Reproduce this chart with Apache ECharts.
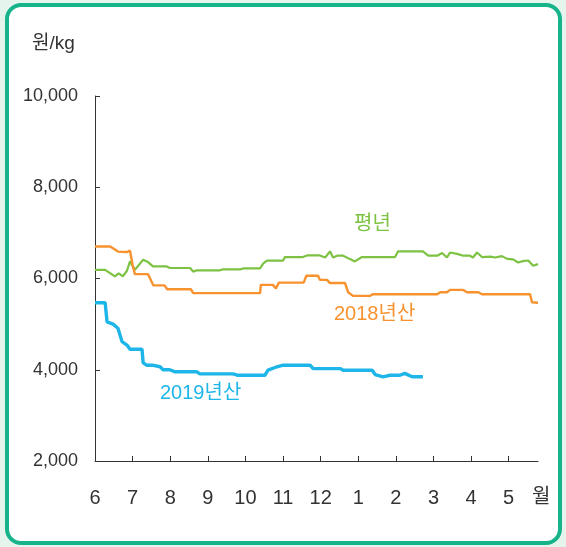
<!DOCTYPE html>
<html>
<head>
<meta charset="utf-8">
<script src="https://cdn.jsdelivr.net/npm/echarts@6/dist/echarts.min.js"></script>
<style>
html,body{margin:0;padding:0;background:#e6f4ee;}
#c{width:566px;height:547px;}
</style>
</head>
<body>
<div id="c"></div>
<script>
// x = months elapsed since June 1, y = 원/kg
var monthLabels = ['6','7','8','9','10','11','12','1','2','3','4','5'];
var yTicks = [2000, 4000, 6000, 8000, 10000];

var avgX = [0,0.27,0.53,0.63,0.74,0.85,0.93,1.06,1.28,1.41,1.54,1.91,1.99,2.53,2.61,2.71,3.32,3.40,3.86,3.94,4.39,4.47,4.57,5.00,5.05,5.53,5.64,5.98,6.12,6.25,6.33,6.44,6.60,6.78,6.91,7.10,7.98,8.06,8.72,8.86,9.10,9.23,9.36,9.44,9.63,9.79,9.97,10.05,10.16,10.29,10.51,10.64,10.82,10.96,11.12,11.25,11.38,11.52,11.65,11.78];
var avgY = [6190,6190,6045,6115,6045,6170,6375,6190,6410,6360,6265,6265,6230,6230,6150,6180,6180,6200,6200,6220,6220,6325,6390,6390,6470,6470,6505,6505,6460,6595,6460,6500,6500,6425,6375,6470,6470,6595,6595,6500,6500,6560,6460,6570,6540,6500,6500,6460,6570,6470,6480,6460,6490,6430,6420,6350,6380,6395,6280,6315];

var y2018X = [0,0.40,0.50,0.61,0.85,0.93,1.00,1.06,1.41,1.55,1.85,1.92,2.55,2.61,4.39,4.41,4.73,4.81,4.89,5.55,5.62,5.93,5.98,6.17,6.25,6.65,6.73,6.86,7.31,7.39,9.10,9.18,9.36,9.44,9.79,9.89,10.19,10.29,11.57,11.62,11.78];
var y2018Y = [6700,6700,6650,6590,6580,6610,6300,6095,6095,5850,5850,5765,5765,5680,5680,5860,5860,5780,5910,5910,6060,6060,5970,5970,5900,5900,5700,5620,5620,5655,5655,5700,5700,5750,5750,5700,5700,5655,5655,5480,5470];

var y2019X = [0,0.27,0.32,0.48,0.61,0.72,0.85,0.93,1.25,1.28,1.38,1.52,1.54,1.73,1.81,1.99,2.13,2.71,2.79,3.67,3.78,4.52,4.60,4.84,5.00,5.72,5.80,6.52,6.60,7.37,7.45,7.66,7.85,8.11,8.24,8.43,8.72];
var y2019Y = [5470,5470,5050,5000,4910,4615,4540,4450,4450,4150,4100,4100,4065,4065,4000,4000,3955,3955,3910,3910,3880,3880,3990,4065,4100,4100,4025,4025,3990,3990,3895,3845,3880,3880,3920,3845,3845];

function pairs(xs, ys){ return xs.map(function(x,i){ return [x, ys[i]]; }); }

var FONT = 'Liberation Sans, Noto Sans CJK KR, sans-serif';
var KFONT = 'Noto Sans CJK KR, Liberation Sans, sans-serif';
var chart = echarts.init(document.getElementById('c'), null, {renderer:'canvas'});
chart.setOption({
  backgroundColor: 'transparent',
  animation: false,
  grid: {left: 95, right: 28, top: 96, bottom: 86},
  xAxis: {
    type: 'value', min: 0, max: 11.78, interval: 1,
    axisLine: {show:true, lineStyle:{color:'#333', width:1}},
    axisTick: {show:true, inside:true, length:5, lineStyle:{color:'#333'}},
    axisLabel: {color:'#333', fontSize:20, fontFamily:FONT, margin:27, showMaxLabel:false,
      formatter: function(v){ var i=Math.round(v); return (Math.abs(v-i)<1e-6 && i<monthLabels.length) ? monthLabels[i] : ''; }},
    splitLine: {show:false}
  },
  yAxis: {
    type: 'value', min: yTicks[0], max: yTicks[yTicks.length-1], interval: 2000,
    axisLine: {show:true, lineStyle:{color:'#333', width:1}},
    axisTick: {show:true, inside:true, length:5, lineStyle:{color:'#333'}},
    axisLabel: {color:'#333', fontSize:18, fontFamily:FONT, margin:17,
      formatter: function(v){ return v.toLocaleString('en-US'); }},
    splitLine: {show:false}
  },
  series: [
    {name:'평년', type:'line', data: pairs(avgX, avgY), symbol:'none', lineStyle:{color:'#7dc242', width:2.2}},
    {name:'2018년산', type:'line', data: pairs(y2018X, y2018Y), symbol:'none', lineStyle:{color:'#f7922e', width:2.4}},
    {name:'2019년산', type:'line', data: pairs(y2019X, y2019Y), symbol:'none', lineStyle:{color:'#1eb6e8', width:3.4}}
  ],
  graphic: [
    {type:'rect', shape:{x:7, y:5, width:553, height:538, r:14}, style:{fill:'#ffffff', stroke:'#17b38b', lineWidth:4}, z:-10},
    {type:'text', left:32, top:34, style:{text:'원/kg', fill:'#333', font:'19px '+FONT}},
    {type:'text', left:532, top:485, style:{text:'월', fill:'#333', font:'20px '+KFONT}},
    {type:'text', left:354, top:214, style:{text:'평년', fill:'#7dc242', font:'20px '+FONT}},
    {type:'text', left:334, top:304, style:{text:'2018년산', fill:'#f7922e', font:'20px '+FONT}},
    {type:'text', left:160, top:383, style:{text:'2019년산', fill:'#1eb6e8', font:'20px '+FONT}}
  ]
});
</script>
</body>
</html>
